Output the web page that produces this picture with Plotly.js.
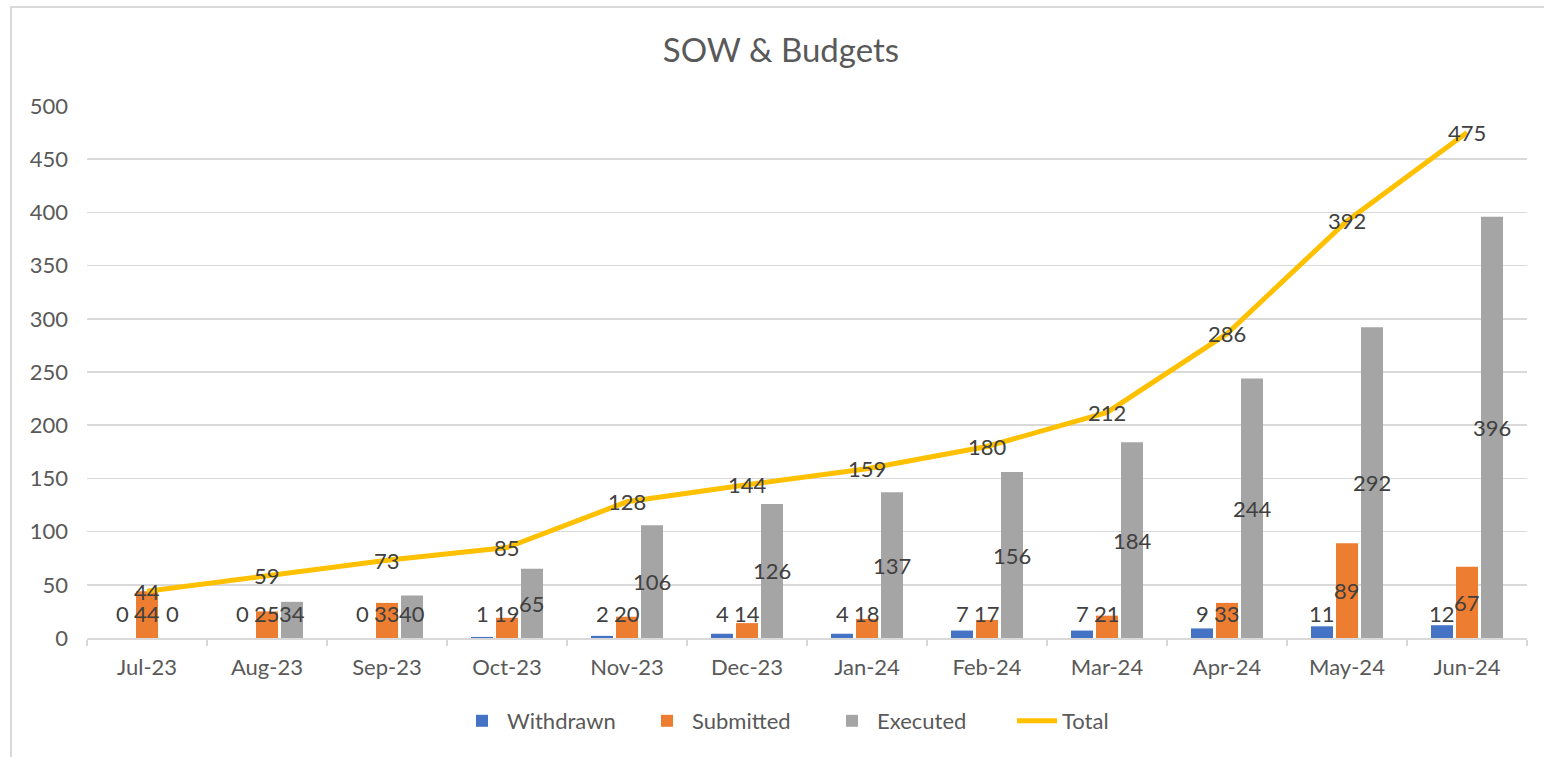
<!DOCTYPE html>
<html>
<head>
<meta charset="utf-8">
<script src="https://cdn.plot.ly/plotly-3.0.1.min.js"></script>
<style>
  html, body { margin: 0; padding: 0; background: #fff; }
  #wrap { position: relative; width: 1544px; height: 757px; }
  #chart { width: 1544px; height: 757px; }
  #frame { position: absolute; left: 10px; top: 6px; right: -4px; bottom: -4px;
           border-left: 2px solid #D9D9D9; border-top: 2px solid #D9D9D9; pointer-events: none; }
</style>
</head>
<body>
<div id="wrap">
  <div id="chart"></div>
  <div id="frame"></div>
</div>
<script>
const months = ["Jul-23","Aug-23","Sep-23","Oct-23","Nov-23","Dec-23","Jan-24","Feb-24","Mar-24","Apr-24","May-24","Jun-24"];
const withdrawn = [0,0,0,1,2,4,4,7,7,9,11,12];
const submitted = [44,25,33,19,20,14,18,17,21,33,89,67];
const executed  = [0,34,40,65,106,126,137,156,184,244,292,396];
const total     = [44,59,73,85,128,144,159,180,212,286,392,475];

const FONT = "Lato, 'Open Sans', sans-serif";
const BARGAP = 0.375;
const slot = (1 - BARGAP) / 3;
const MIN_LABEL_Y = 23.5;
const labelFont = { family: FONT, size: 22, color: "#404040" };

const barSeries = [
  { name: "Withdrawn", values: withdrawn, color: "#4472C4" },
  { name: "Submitted", values: submitted, color: "#ED7D31" },
  { name: "Executed",  values: executed,  color: "#A5A5A5" }
];

const traces = barSeries.map(s => ({
  type: "bar", name: s.name, x: months, y: s.values,
  marker: { color: s.color }, hoverinfo: "x+y+name"
}));
traces.push({
  type: "scatter", mode: "lines", name: "Total", x: months, y: total,
  line: { color: "#FFC000", width: 5 }
});

const annotations = [];
barSeries.forEach((s, si) => {
  s.values.forEach((v, i) => {
    annotations.push({
      xref: "x", yref: "y", x: i + (si - 1) * slot, y: Math.max(v / 2, MIN_LABEL_Y),
      text: String(v), showarrow: false, font: labelFont,
      xanchor: "center", yanchor: "middle"
    });
  });
});
total.forEach((v, i) => {
  annotations.push({
    xref: "x", yref: "y", x: i, y: v, text: String(v), showarrow: false,
    font: labelFont, xanchor: "center", yanchor: "middle"
  });
});

const layout = {
  width: 1544, height: 757,
  margin: { l: 87, r: 17, t: 106, b: 119 },
  paper_bgcolor: "#fff", plot_bgcolor: "#fff",
  font: { family: FONT, color: "#595959" },
  title: { text: "SOW & Budgets", font: { family: FONT, size: 33, color: "#595959" },
           x: 781 / 1544, xanchor: "center", xref: "container", y: 1 - 50/757, yref: "container", yanchor: "middle" },
  barmode: "group", bargap: BARGAP, bargroupgap: 0.12,
  xaxis: {
    type: "category", showgrid: false, showline: true, linecolor: "#D9D9D9", linewidth: 2,
    ticks: "outside", tickson: "boundaries", ticklen: 6, tickwidth: 2, tickcolor: "#D9D9D9",
    tickfont: { family: FONT, size: 22, color: "#595959" }, ticklabelstandoff: 9,
    range: [-0.5, 11.5], fixedrange: true
  },
  yaxis: {
    range: [0, 500], tickvals: [0,50,100,150,200,250,300,350,400,450,500],
    showgrid: true, gridcolor: "#D9D9D9", gridwidth: 1.5, zeroline: false, showline: false,
    tickfont: { family: FONT, size: 22, color: "#595959" }, ticklabelstandoff: 18, fixedrange: true
  },
  legend: {
    orientation: "h", x: (827 - 87) / 1440, xanchor: "center", y: -(721 - 638) / 532, yanchor: "middle",
    font: { family: FONT, size: 22, color: "#595959" }, traceorder: "normal", itemwidth: 40,
    entrywidth: 130, entrywidthmode: "pixels"
  },
  annotations: annotations,
  showlegend: true
};

Plotly.newPlot("chart", traces, layout, { displayModeBar: false, staticPlot: true });
</script>
</body>
</html>
